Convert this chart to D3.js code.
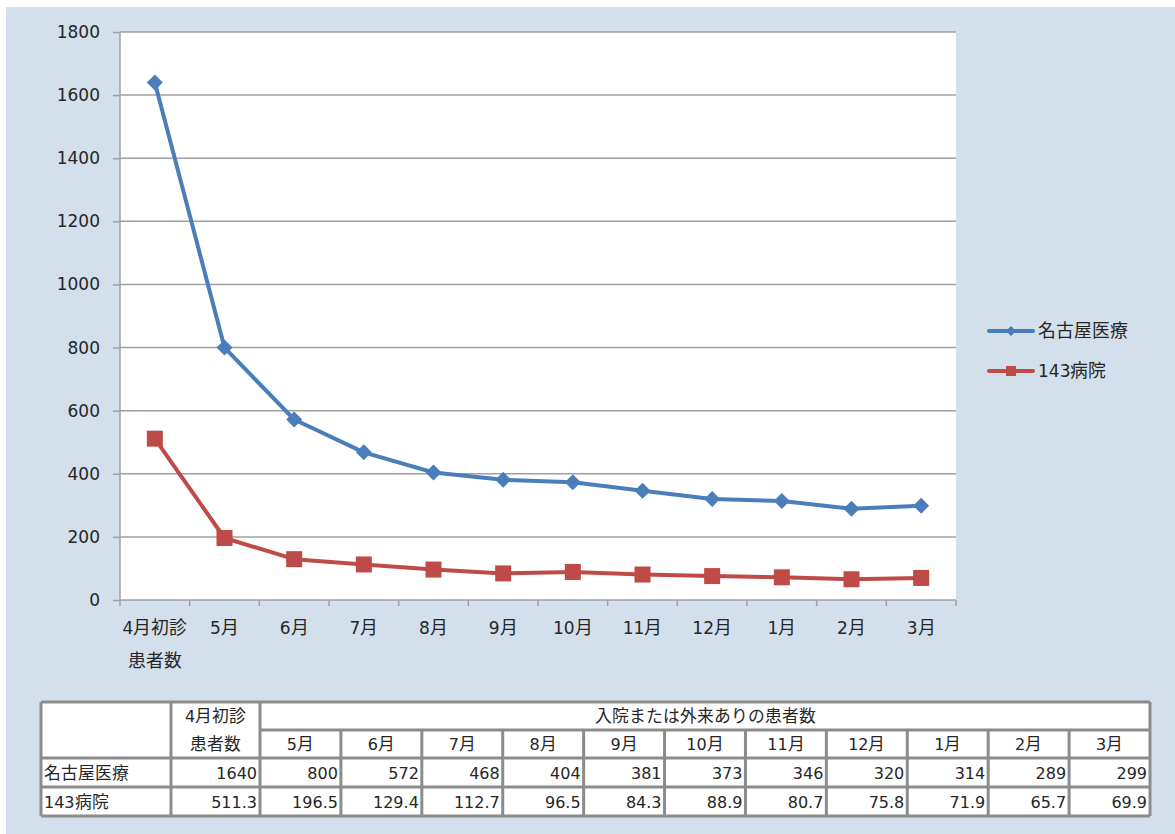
<!DOCTYPE html>
<html><head><meta charset="utf-8">
<script src="https://cdn.jsdelivr.net/npm/d3@7"></script>
<style>
html,body{margin:0;padding:0;background:#fff;}
@font-face{font-family:"CJKBig";src:local("Noto Sans CJK JP");size-adjust:105%;unicode-range:U+3000-9FFF,U+FF00-FFEF;}
text{font-family:"DejaVu Sans","CJKBig","Noto Sans CJK JP",sans-serif;fill:#262626;}
</style></head>
<body><svg id="c" width="1175" height="834"></svg>
<script>
const categories = ["4月初診\n患者数","5月","6月","7月","8月","9月","10月","11月","12月","1月","2月","3月"];
const seriesNames = ["名古屋医療","143病院"];
const nagoya = [1640,800,572,468,404,381,373,346,320,314,289,299];
const hosp143 = [511.3,196.5,129.4,112.7,96.5,84.3,88.9,80.7,75.8,71.9,65.7,69.9];
const nagoyaLabels = ["1640","800","572","468","404","381","373","346","320","314","289","299"];
const hospLabels = ["511.3","196.5","129.4","112.7","96.5","84.3","88.9","80.7","75.8","71.9","65.7","69.9"];
const yTicks = [0,200,400,600,800,1000,1200,1400,1600,1800];
const tableHeaderTop = ["4月初診","患者数"];
const tableGroupHeader = "入院または外来ありの患者数";

const FONT='"DejaVu Sans","CJKBig","Noto Sans CJK JP",sans-serif';
const svg = d3.select("#c");
svg.append("rect").attr("x",6).attr("y",7).attr("width",1169).attr("height",827).attr("fill","#d3dfea");

const L=120,R=956,T=32,B=600;
svg.append("rect").attr("x",L).attr("y",T).attr("width",R-L).attr("height",B-T).attr("fill","#fff");

const x = d3.scaleBand().domain(d3.range(categories.length)).range([L,R]);
const y = d3.scaleLinear().domain([0,1800]).range([B,T]);

// gridlines
svg.append("g").selectAll("line").data(yTicks.filter(d=>d>0)).join("line")
  .attr("x1",L).attr("x2",R).attr("y1",d=>y(d)).attr("y2",d=>y(d))
  .attr("stroke","#a0a0a0").attr("stroke-width",1.5);

// y axis
const ya = svg.append("g").attr("transform",`translate(${L},0)`)
  .call(d3.axisLeft(y).tickValues(yTicks).tickSize(7).tickPadding(13).tickFormat(d3.format("d")));
ya.attr("font-family",null).attr("font-size",null);
ya.select(".domain").attr("stroke","#a0a0a0").attr("stroke-width",1.5).attr("d",`M0,${T}V${B}`);
ya.selectAll(".tick line").attr("stroke","#a0a0a0").attr("stroke-width",1.5);
ya.selectAll(".tick text").attr("font-size",17).attr("fill","#262626").style("font-family",FONT);

// x axis
const xa = svg.append("g").attr("transform",`translate(0,${B})`);
xa.append("line").attr("x1",L).attr("x2",R).attr("y1",0).attr("y2",0).attr("stroke","#a0a0a0").attr("stroke-width",1.5);
xa.selectAll("line.tk").data(d3.range(categories.length+1)).join("line").attr("class","tk")
  .attr("x1",i=>L+i*x.step()).attr("x2",i=>L+i*x.step()).attr("y1",0).attr("y2",6)
  .attr("stroke","#a0a0a0").attr("stroke-width",1.5);
categories.forEach((c,i)=>{
  const lines=c.split("\n");
  lines.forEach((ln,j)=>{
    xa.append("text").attr("x",x(i)+x.bandwidth()/2).attr("y",34+j*33)
      .attr("text-anchor","middle").attr("font-size",17).text(ln);
  });
});

// series
const series=[{name:seriesNames[0],vals:nagoya,color:"#4a7ebb",shape:"diamond"},
              {name:seriesNames[1],vals:hosp143,color:"#be4b48",shape:"square"}];
const line=d3.line().x((d,i)=>x(i)+x.bandwidth()/2).y(d=>y(d));
function marker(g,shape,cx,cy,s,color){
  if(shape==="diamond"){
    g.append("path").attr("d",`M${cx},${cy-s}L${cx+s},${cy}L${cx},${cy+s}L${cx-s},${cy}Z`).attr("fill",color);
  } else {
    g.append("rect").attr("x",cx-s).attr("y",cy-s).attr("width",2*s).attr("height",2*s).attr("fill",color);
  }
}
series.forEach(s=>{
  svg.append("path").datum(s.vals).attr("d",line).attr("fill","none").attr("stroke",s.color).attr("stroke-width",4).attr("stroke-linejoin","round");
  const g=svg.append("g");
  s.vals.forEach((v,i)=>marker(g,s.shape,x(i)+x.bandwidth()/2,y(v),8,s.color));
});

// legend
series.forEach((s,i)=>{
  const ly=331+i*40;
  svg.append("line").attr("x1",989).attr("x2",1033).attr("y1",ly).attr("y2",ly).attr("stroke",s.color).attr("stroke-width",4).attr("stroke-linecap","round");
  marker(svg,s.shape,1011,ly,5,s.color);
  svg.append("text").attr("x",1038).attr("y",ly+6).attr("font-size",17).text(s.name);
});

// table
const tb=svg.append("g");
const tL=41, c1=171, c2=260, tR=1150, cw=(tR-c2)/11;
const rY=[702,730,758,787,816];
const bc="#8c8c8c", bw=3;
tb.append("rect").attr("x",tL).attr("y",rY[0]).attr("width",tR-tL).attr("height",rY[4]-rY[0]).attr("fill","#fff");
const seg=(x1,y1,x2,y2)=>tb.append("line").attr("x1",x1).attr("y1",y1).attr("x2",x2).attr("y2",y2).attr("stroke",bc).attr("stroke-width",bw);
seg(tL,rY[0],tR,rY[0]);
seg(c2,rY[1],tR,rY[1]);
seg(tL,rY[2],tR,rY[2]);
seg(tL,rY[3],tR,rY[3]);
seg(tL,rY[4],tR,rY[4]);
seg(tL,rY[0],tL,rY[4]);
seg(c1,rY[0],c1,rY[4]);
seg(c2,rY[0],c2,rY[4]);
for(let k=1;k<=11;k++){
  const xx=c2+k*cw;
  seg(xx,k===11?rY[0]:rY[1],xx,rY[4]);
}
const fs=16;
tb.append("text").attr("x",(c1+c2)/2).attr("y",rY[0]+20).attr("text-anchor","middle").attr("font-size",fs).text(tableHeaderTop[0]);
tb.append("text").attr("x",(c1+c2)/2).attr("y",rY[1]+20).attr("text-anchor","middle").attr("font-size",fs).text(tableHeaderTop[1]);
tb.append("text").attr("x",(c2+tR)/2).attr("y",rY[0]+20).attr("text-anchor","middle").attr("font-size",fs).text(tableGroupHeader);
categories.slice(1).forEach((c,k)=>{
  tb.append("text").attr("x",c2+k*cw+cw/2).attr("y",rY[1]+20).attr("text-anchor","middle").attr("font-size",fs).text(c);
});
[[seriesNames[0],nagoyaLabels],[seriesNames[1],hospLabels]].forEach(([nm,vals],r)=>{
  const yy=rY[2+r]+21;
  tb.append("text").attr("x",tL+3).attr("y",yy).attr("font-size",fs).text(nm);
  vals.forEach((v,i)=>{
    const right = i===0? c2-3 : c2+i*cw-3;
    tb.append("text").attr("x",right).attr("y",yy).attr("text-anchor","end").attr("font-size",fs).text(v);
  });
});
</script></body></html>
